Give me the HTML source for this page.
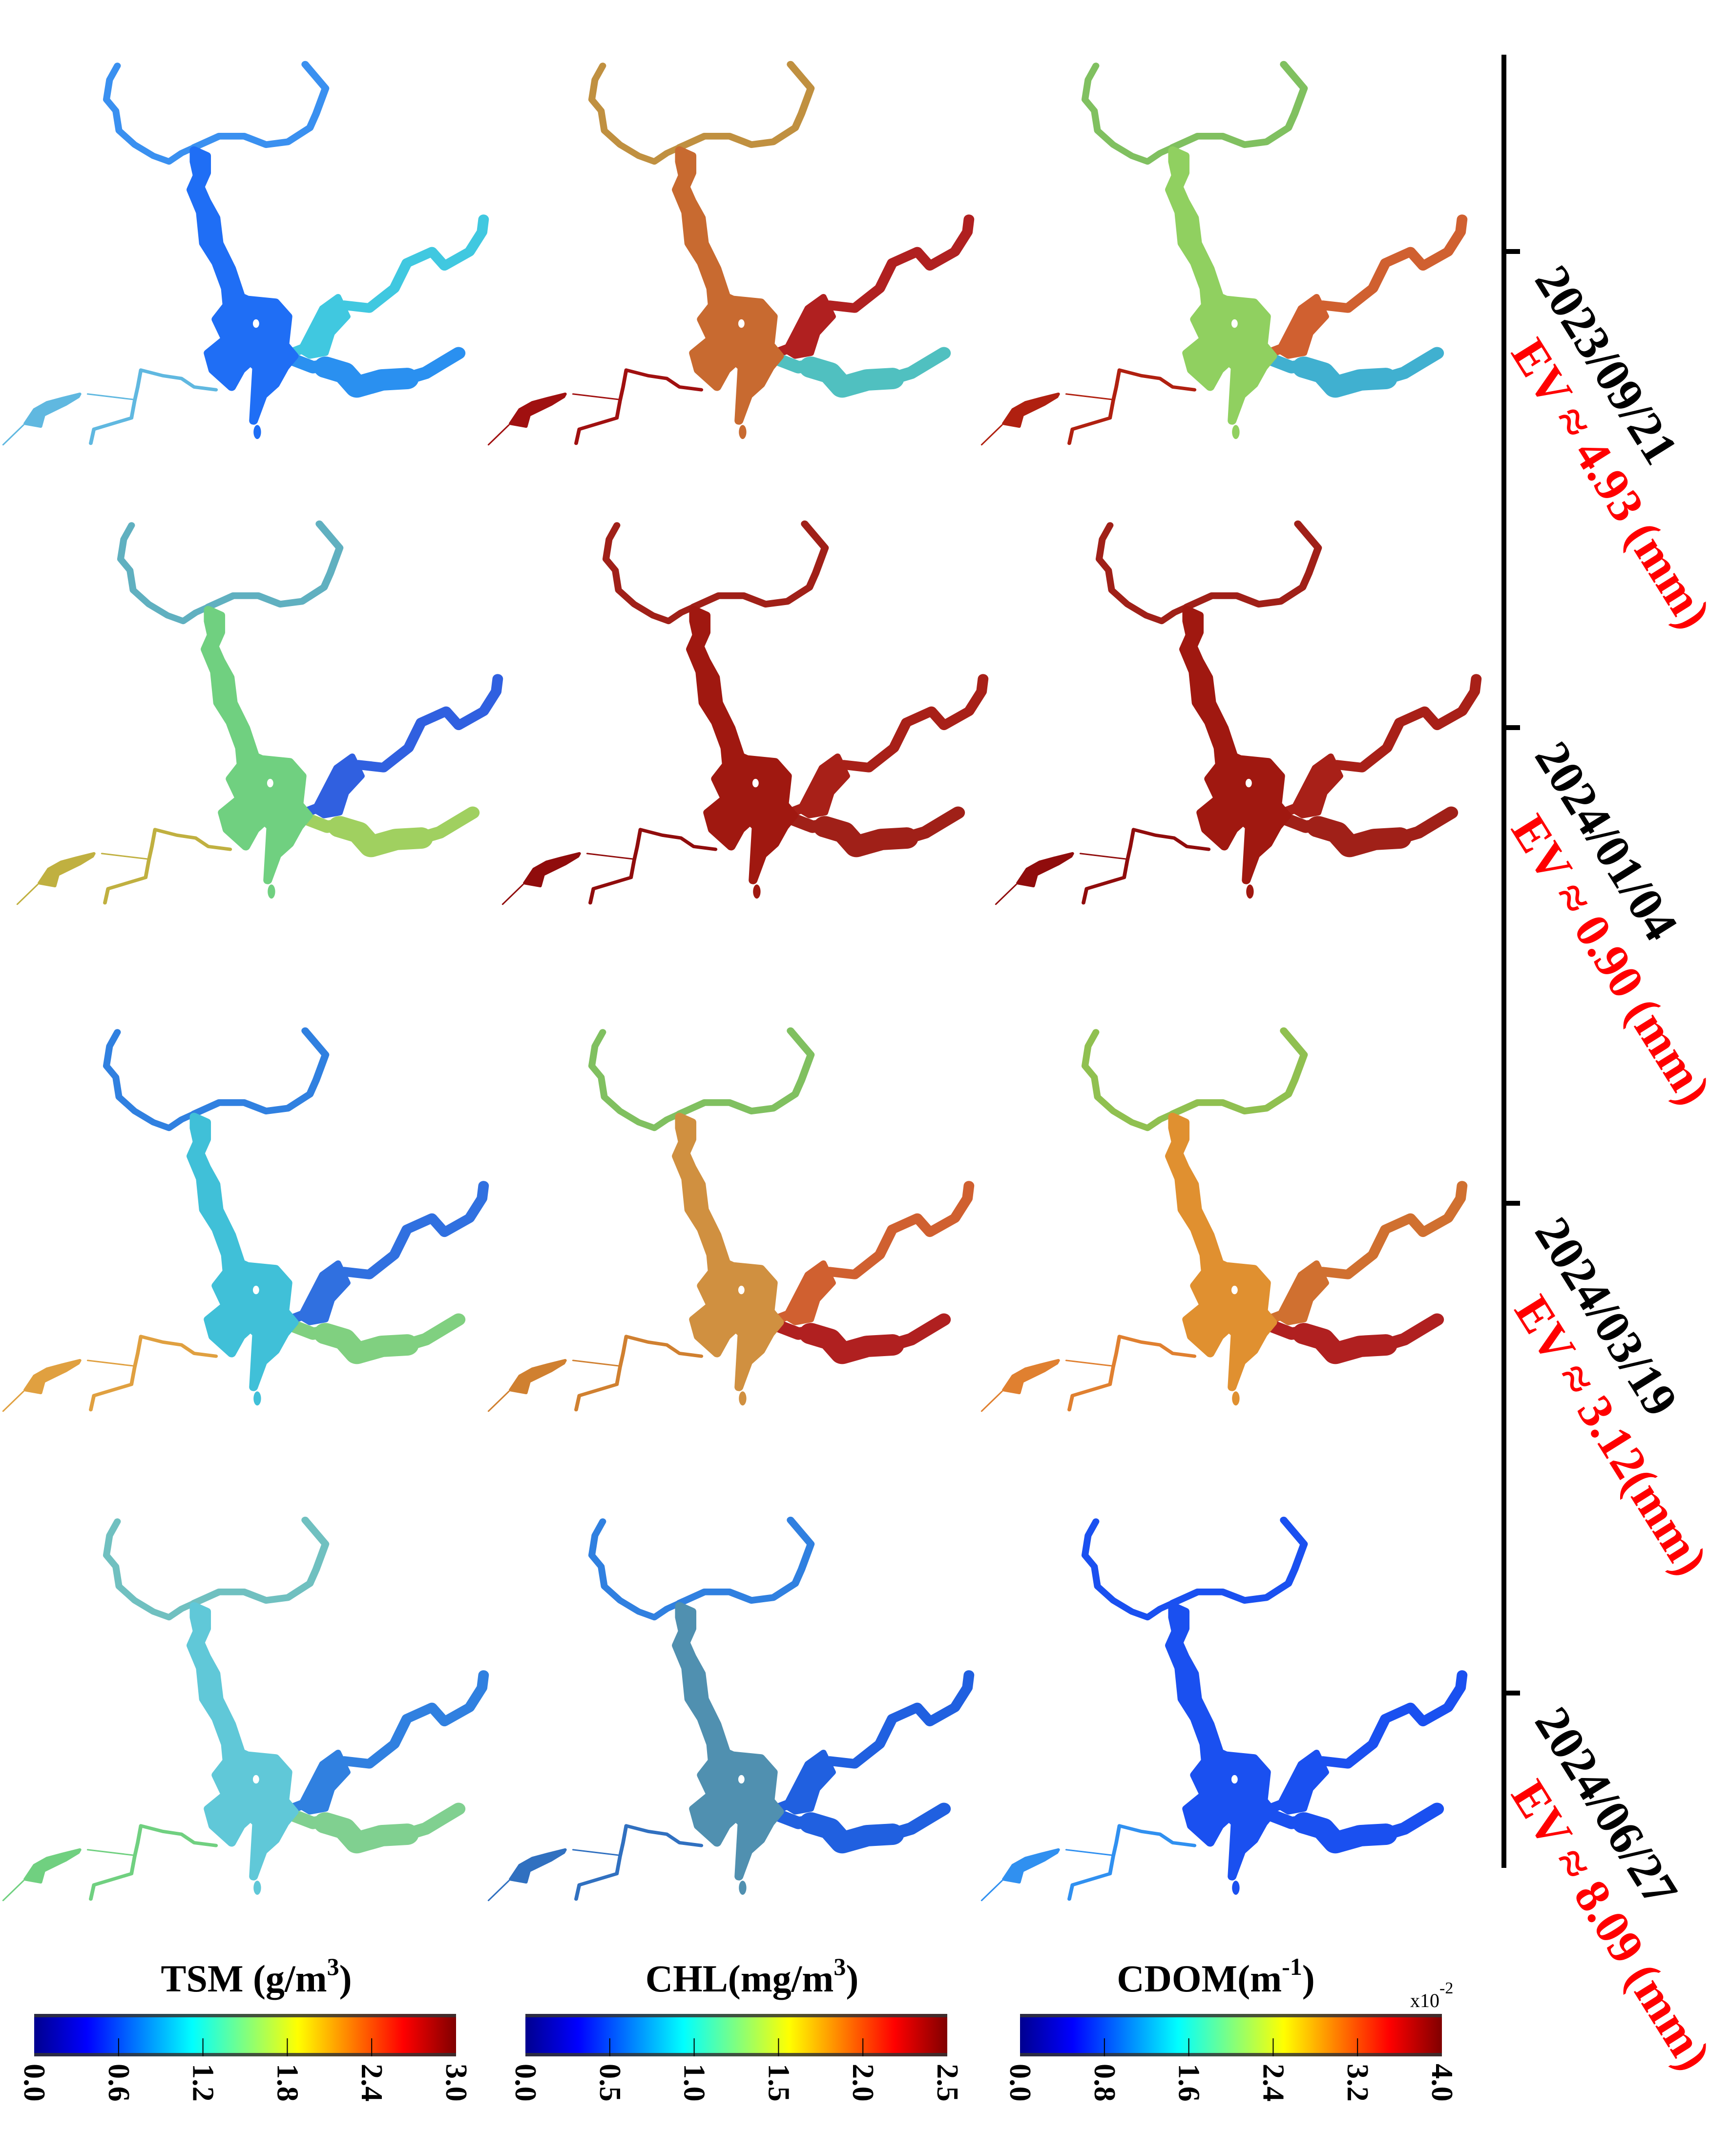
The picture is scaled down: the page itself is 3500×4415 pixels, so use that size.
<!DOCTYPE html>
<html><head><meta charset="utf-8"><style>
html,body{margin:0;padding:0;background:#fff;}
svg{display:block;}
text{font-family:"Liberation Serif",serif;}
</style></head><body>
<svg id="fig" width="3500" height="4415" viewBox="0 0 3500 4415" xmlns="http://www.w3.org/2000/svg">
<defs>
<linearGradient id="jet" x1="0" x2="1" y1="0" y2="0">
<stop offset="0" stop-color="#00008f"/><stop offset="0.125" stop-color="#0000ff"/>
<stop offset="0.375" stop-color="#00ffff"/><stop offset="0.625" stop-color="#ffff00"/>
<stop offset="0.875" stop-color="#ff0000"/><stop offset="1" stop-color="#800000"/>
</linearGradient>
</defs>
<g id="maps"></g>
<g id="axis">
<rect x="3075" y="112" width="10" height="3713" fill="#000"/>
</g>
<g id="cbars"></g>
</svg>
<script>
const dates = ["2023/09/21","2024/01/04","2024/03/19","2024/06/27"];
const evLabels = ["EV \u2248 4.93 (mm)","EV \u2248 0.90 (mm)","EV \u2248 3.12(mm)","EV \u2248 8.09 (mm)"];
const tickY = [515,1490,2464,3467];
const tsmTicks = ["0.0","0.6","1.2","1.8","2.4","3.0"];
const chlTicks = ["0.0","0.5","1.0","1.5","2.0","2.5"];
const cdomTicks = ["0.0","0.8","1.6","2.4","3.2","4.0"];
const NS="http://www.w3.org/2000/svg";
function mk(tag, attrs, parent){const e=document.createElementNS(NS,tag);for(const k in attrs)e.setAttribute(k,attrs[k]);parent.appendChild(e);return e;}

const panelColors = [
 [["#3a90f0","#1f6ef5","#40c8e0","#2a90f0","#60b8e0"],["#c09040","#c86a30","#b02020","#50c0c0","#a01010"],["#80c060","#90d060","#d06030","#40b0d0","#b02010"]],
 [["#60b0c0","#70d080","#3060e0","#a0d060","#c0b040"],["#a02018","#a01810","#a82018","#a02018","#900c0c"],["#a02018","#a01810","#a82018","#a02018","#900c0c"]],
 [["#3080e0","#40c0d8","#3070e0","#80d080","#e0a040"],["#80c060","#d09040","#d06030","#b02020","#d08030"],["#90c050","#e09030","#d07030","#b02020","#e08030"]],
 [["#70c0c0","#60c8d8","#3080e0","#80d090","#70d080"],["#3080e0","#5090b0","#2060e0","#2060e0","#3070c0"],["#1a50f0","#1a50f0","#1a50f0","#1a50f0","#3090f0"]]
];
const colOff=[0,994,2004];
const rowOff=[0,941,1979,2981];
const rowDx=[0,29,0,0];
const maps=document.getElementById('maps');
for(let r=0;r<4;r++){for(let c=0;c<3;c++){
 const col=panelColors[r][c];
 const g=mk('g',{transform:`translate(${colOff[c]+rowDx[r]},${100+rowOff[r]}) scale(0.641,0.577)`},maps);
 
 
 const L={fill:'none','stroke-linecap':'round','stroke-linejoin':'round'};
 mk('path',Object.assign({d:"M375,60 L350,110 L340,180 L370,220 L380,290 L430,340 L490,380 L540,400 L580,370 L620,350",stroke:col[0],'stroke-width':22},L),g);
 mk('path',Object.assign({d:"M620,350 L700,310 L780,310 L850,340 L920,330 L990,280 L1010,230 L1040,140 L975,55",stroke:col[0],'stroke-width':24},L),g);
 mk('path',Object.assign({d:"M930,1080 L1000,1050 L1040,990 L1070,920 L1100,910 L1180,920 L1260,850 L1300,760 L1380,720 L1420,770 L1500,720 L1540,650 L1545,605",stroke:col[2],'stroke-width':34},L),g);
 mk('path',{d:"M1030,920 L1080,880 L1110,950 L1060,1010 L1040,1080 L990,1090 L960,1070 Z",fill:col[2],stroke:col[2],'stroke-width':20,'stroke-linejoin':'round'},g);
 mk('path',Object.assign({d:"M930,1100 L1000,1130 L1060,1120 L1100,1140 L1140,1200 L1220,1170 L1300,1170 L1360,1150 L1420,1110 L1465,1080",stroke:col[3],'stroke-width':44},L),g);
 mk('path',Object.assign({d:"M1040,1130 L1100,1150 L1140,1200 L1220,1175 L1300,1170",stroke:col[3],'stroke-width':76},L),g);
 mk('path',Object.assign({d:"M690,1210 L620,1200 L580,1170 L520,1160 L450,1140 L440,1200 L430,1250 L420,1310 L300,1350 L290,1400",stroke:col[4],'stroke-width':12},L),g);
 mk('path',Object.assign({d:"M430,1245 L280,1225 M75,1335 L10,1405",stroke:col[4],'stroke-width':5},L),g);
 mk('path',{d:"M255,1225 L200,1240 L150,1255 L110,1280 L80,1330 L130,1340 L140,1300 L210,1262 L250,1235 Z",fill:col[4],stroke:col[4],'stroke-width':10,'stroke-linejoin':'round'},g);
 mk('path',{d:"M620,360 L660,380 L660,440 L640,490 L660,540 L690,600 L700,690 L740,780 L770,880 L790,890 L880,900 L920,950 L910,1050 L940,1090 L910,1130 L880,1190 L840,1230 L810,1320 L820,1130 L800,1110 L770,1140 L740,1200 L680,1140 L665,1080 L720,1030 L690,960 L725,910 L720,850 L690,760 L650,690 L640,580 L610,500 L630,450 L620,400 Z",fill:col[1],stroke:col[1],'stroke-width':28,'stroke-linejoin':'round'},g);
 mk('ellipse',{cx:822,cy:1360,rx:12,ry:25,fill:col[1]},g);
 mk('ellipse',{cx:818,cy:975,rx:10,ry:15,fill:'#fff'},g);
}}

const axis=document.getElementById('axis');
for(let i=0;i<4;i++){
 const t=mk('rect',{x:3080,y:tickY[i]-5,width:33,height:10,fill:'#000'},axis);
 
 
 const d=mk('text',{x:3290,y:tickY[i]+232,'font-size':100,'font-weight':'bold',fill:'#000','text-anchor':'middle','dominant-baseline':'central',transform:`rotate(58 3290 ${tickY[i]+232})`},axis);
 d.textContent=dates[i];
 
 
 const e=mk('text',{x:3300,y:tickY[i]+475,'font-size':100,'font-weight':'bold',fill:'#ff0000','text-anchor':'middle','dominant-baseline':'central',transform:`rotate(58 3300 ${tickY[i]+475})`},axis);
 e.textContent=evLabels[i];
 
 
}

const cb=document.getElementById('cbars');
const bars=[{x:70,ticks:tsmTicks,title:["TSM (g/m","3",")"],tx:525},{x:1076,ticks:chlTicks,title:["CHL(mg/m","3",")"],tx:1540},{x:2089,ticks:cdomTicks,title:["CDOM(m","-1",")"],tx:2490}];
const bw=864, by=4124, bh=87;
bars.forEach((b,bi)=>{
 const r=mk('rect',{x:b.x,y:by,width:bw,height:bh,fill:'url(#jet)'},cb);
 
 
 mk('rect',{x:b.x,y:by,width:bw,height:7,fill:'#333',opacity:0.85},cb);
 mk('rect',{x:b.x,y:by+bh-7,width:bw,height:7,fill:'#333',opacity:0.85},cb);
 b.ticks.forEach((lab,i)=>{
  const tx=b.x+bw*i/(b.ticks.length-1);
  if(i>0&&i<b.ticks.length-1){mk('line',{x1:tx,y1:4174,x2:tx,y2:by+bh,stroke:'#000','stroke-width':2},cb);}
  const t=mk('text',{x:tx,y:4226,'font-size':62,'font-weight':'bold',fill:'#000','dominant-baseline':'central',transform:`rotate(90 ${tx} 4226)`},cb);
  t.textContent=lab;
  
  
 });
 const tt=mk('text',{x:b.tx,y:4078,'font-size':78,'font-weight':'bold',fill:'#000','text-anchor':'middle'},cb);
 
 
 const s1=document.createElementNS(NS,'tspan');s1.textContent=b.title[0];tt.appendChild(s1);
 const s2=document.createElementNS(NS,'tspan');s2.setAttribute('dy','-34');s2.setAttribute('font-size','50');s2.textContent=b.title[1];tt.appendChild(s2);
 const s3=document.createElementNS(NS,'tspan');s3.setAttribute('dy','34');s3.textContent=b.title[2];tt.appendChild(s3);
});
const ex=mk('text',{x:2888,y:4110,'font-size':40,fill:'#000'},cb);


ex.innerHTML='x10<tspan dy="-28" font-size="34">-2</tspan>';
</script>
</body></html>
